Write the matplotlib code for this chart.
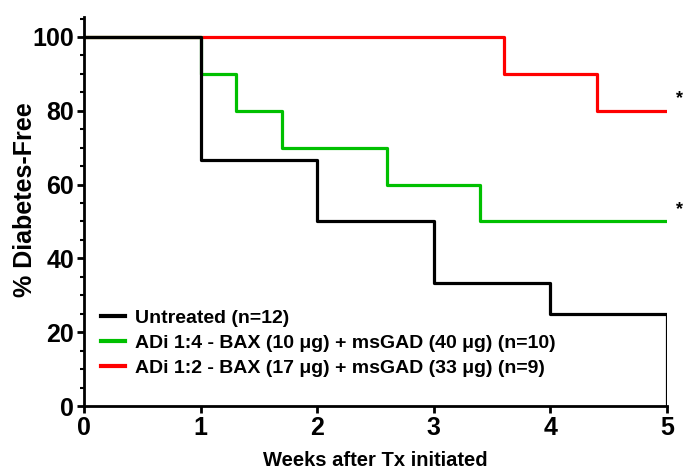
import numpy as np
import matplotlib.pyplot as plt
from matplotlib.ticker import MultipleLocator

# survival curves (weeks, % diabetes-free)
untreated_t = [0, 1, 2, 3, 4, 5, 5]
untreated_y = [100, 66.7, 50, 33.3, 25, 25, 0]
low_t = [0, 1, 1.3, 1.7, 2.6, 3.4, 5]
low_y = [100, 90, 80, 70, 60, 50, 50]
high_t = [0, 1, 3.6, 4.4, 5]
high_y = [100, 100, 90, 80, 80]

labels = ["Untreated (n=12)",
          "ADi 1:4 - BAX (10 \u03bcg) + msGAD (40 \u03bcg) (n=10)",
          "ADi 1:2 - BAX (17 \u03bcg) + msGAD (33 \u03bcg) (n=9)"]
sig_y = [80, 50]

plt.rcParams['font.family'] = ['Liberation Sans', 'DejaVu Sans']
plt.rcParams['font.weight'] = 'bold'

fig = plt.figure(figsize=(6.86, 4.71), dpi=100)
ax = fig.add_axes([0.1224, 0.138, 0.8499, 0.8266])

l3, = ax.step(high_t, high_y, where='post', color='#ff0000', lw=2.3)
l2, = ax.step(low_t, low_y, where='post', color='#00c000', lw=2.3)
l1, = ax.step(untreated_t, untreated_y, where='post', color='black', lw=2.3)

for y in sig_y:
    ax.text(5.08, y + 3.3, '*', fontsize=13, ha='left', va='center', clip_on=False)

ax.set_xlim(0, 5)
ax.set_ylim(0, 105.5)
ax.xaxis.set_major_locator(MultipleLocator(1))
ax.yaxis.set_major_locator(MultipleLocator(20))
ax.yaxis.set_minor_locator(MultipleLocator(5))
ax.spines['top'].set_visible(False)
ax.spines['right'].set_visible(False)
ax.spines['left'].set_linewidth(2)
ax.spines['bottom'].set_linewidth(2)
ax.tick_params(which='major', length=5, width=2, labelsize=18, pad=2)
ax.tick_params(which='minor', length=3, width=1.5)
for lab in ax.get_xticklabels() + ax.get_yticklabels():
    lab.set_fontweight('heavy')

ax.set_xlabel("Weeks after Tx initiated", fontsize=14.5, fontweight='bold', labelpad=8)
ax.set_ylabel("% Diabetes-Free", fontsize=18, fontweight='bold')
ax.yaxis.set_label_coords(-0.08, 0.53)

leg = ax.legend([l1, l2, l3], labels, loc='lower left', bbox_to_anchor=(0.0, 0.03),
                frameon=False, handlelength=1.2, handletextpad=0.5, labelspacing=0.37,
                prop={'weight': 'bold', 'size': 14})
for h in leg.legend_handles:
    h.set_linewidth(3)

plt.savefig('out.png', dpi=100)
